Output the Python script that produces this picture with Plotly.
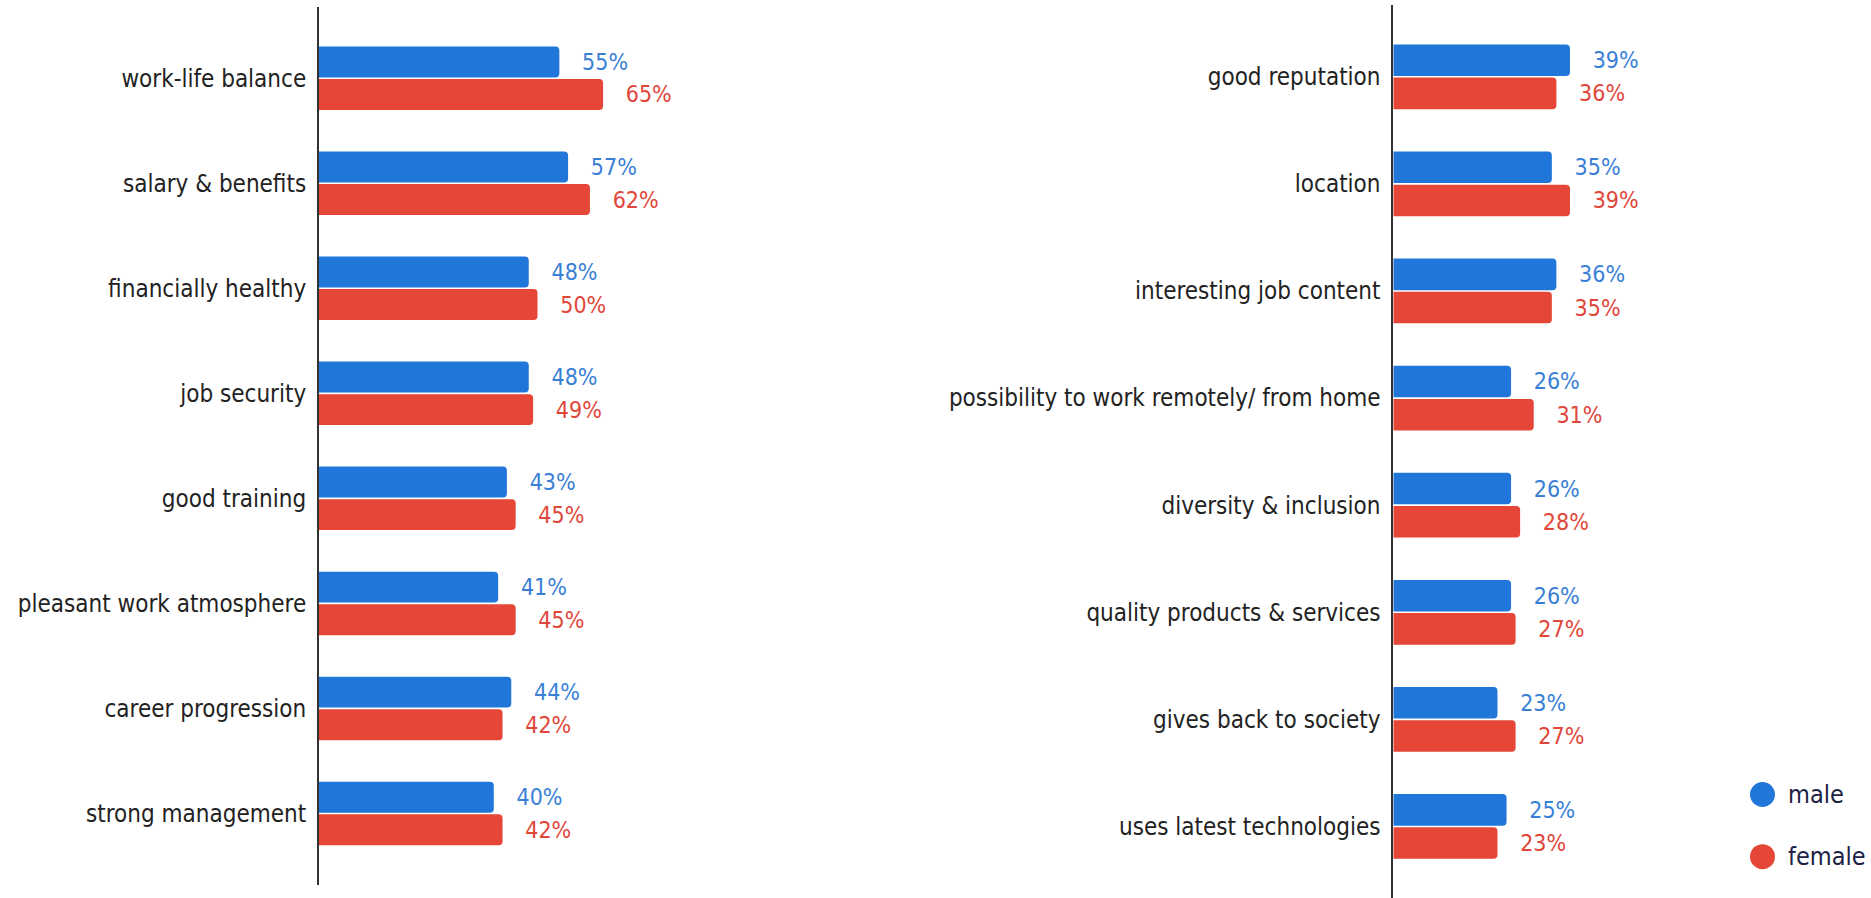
import plotly.graph_objects as go

# Left panel: top workplace attributes
left_categories = [
    "work-life balance", "salary & benefits", "financially healthy", "job security",
    "good training", "pleasant work atmosphere", "career progression", "strong management",
]
left_male = [55, 57, 48, 48, 43, 41, 44, 40]
left_female = [65, 62, 50, 49, 45, 45, 42, 42]

# Right panel: further attributes
right_categories = [
    "good reputation", "location", "interesting job content",
    "possibility to work remotely/ from home", "diversity & inclusion",
    "quality products & services", "gives back to society", "uses latest technologies",
]
right_male = [39, 35, 36, 26, 26, 26, 23, 25]
right_female = [36, 39, 35, 31, 28, 27, 27, 23]

series_names = ["male", "female"]

W, H = 1871, 898
BAR_BLUE = "#2176d9"
BAR_RED = "#e54637"
TXT_BLUE = "#3a7fd6"
TXT_RED = "#e0473a"
FONT = "DejaVu Sans Condensed, DejaVu Sans, sans-serif"
PAD = "\u00a0\u00a0\u00a0"

fig = go.Figure()


def add_panel(cats, male, female, xa, ya):
    for name, vals, bar_col, txt_col in [
        (series_names[0], male, BAR_BLUE, TXT_BLUE),
        (series_names[1], female, BAR_RED, TXT_RED),
    ]:
        fig.add_trace(go.Bar(
            name=name, y=cats, x=vals, orientation="h",
            xaxis=xa, yaxis=ya,
            marker=dict(color=bar_col, cornerradius=4, line=dict(width=0)),
            text=[f"{PAD}{v}%" for v in vals],
            textposition="outside", cliponaxis=False, constraintext="none",
            textfont=dict(family=FONT, size=23, color=txt_col),
            showlegend=False, hoverinfo="skip",
        ))


add_panel(left_categories, left_male, left_female, "x", "y")
add_panel(right_categories, right_male, right_female, "x2", "y2")

axis_common = dict(showgrid=False, zeroline=False, showticklabels=False, ticks="", fixedrange=True)
yaxis_common = dict(
    type="category", showgrid=False, zeroline=False, showline=True,
    linecolor="#333333", linewidth=2, ticks="outside", ticklen=6,
    tickcolor="rgba(0,0,0,0)", tickfont=dict(family=FONT, size=24, color="#222222"),
    automargin=False,
)

fig.update_layout(
    width=W, height=H,
    margin=dict(l=0, r=0, t=0, b=0),
    paper_bgcolor="white", plot_bgcolor="white",
    barmode="group", bargap=0.38, bargroupgap=0.05,
    showlegend=False,
    xaxis=dict(domain=[319 / W, (319 + 4.37 * 80) / W], range=[0, 80], **axis_common),
    xaxis2=dict(domain=[1393.3 / W, (1393.3 + 4.53 * 60) / W], range=[0, 60], **axis_common),
    yaxis=dict(domain=[1 - 885 / H, 1 - 7.3 / H], range=[7.681, -0.675], anchor="x", **yaxis_common),
    yaxis2=dict(domain=[0, 1 - 5 / H], range=[7.668, -0.670], anchor="x2", **yaxis_common),
)

# Legend: coloured dots with series names
legend_items = [(series_names[0], BAR_BLUE, 794.5), (series_names[1], BAR_RED, 856.7)]
for name, col, ypx in legend_items:
    cx, r = 1762.5, 12.5
    fig.add_shape(type="circle", xref="paper", yref="paper",
                  x0=(cx - r) / W, x1=(cx + r) / W,
                  y0=1 - (ypx + r) / H, y1=1 - (ypx - r) / H,
                  fillcolor=col, line=dict(width=0))
    fig.add_annotation(x=1786 / W, y=1 - ypx / H, xref="paper", yref="paper",
                       text=name, showarrow=False, xanchor="left", yanchor="middle",
                       font=dict(family=FONT, size=25, color="#1b2245"))

fig.write_html("out.html")
